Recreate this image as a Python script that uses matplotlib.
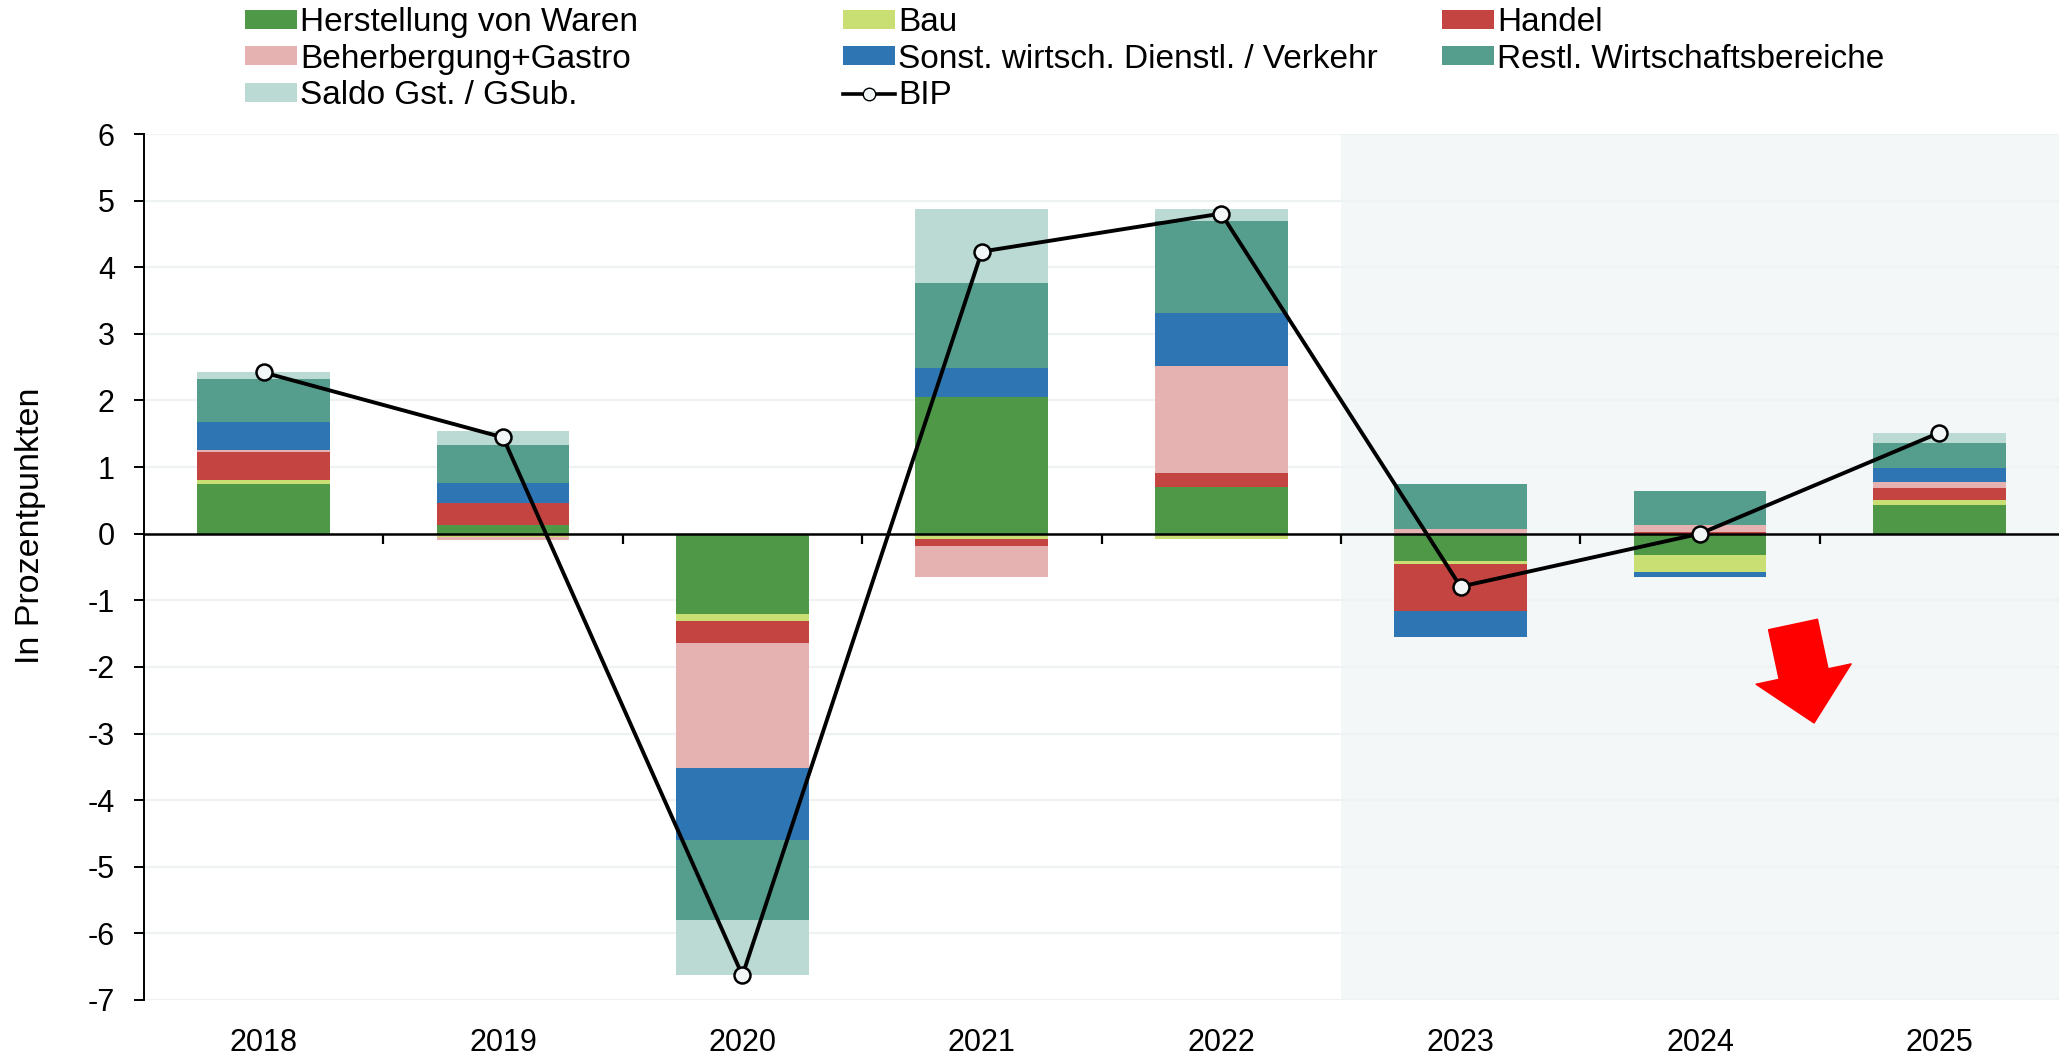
import numpy as np
import matplotlib
matplotlib.use("Agg")
import matplotlib.pyplot as plt
from matplotlib.patches import Patch
from matplotlib.lines import Line2D

years = ["2018", "2019", "2020", "2021", "2022", "2023", "2024", "2025"]

series_names = [
    "Herstellung von Waren",
    "Bau",
    "Handel",
    "Beherbergung+Gastro",
    "Sonst. wirtsch. Dienstl. / Verkehr",
    "Restl. Wirtschaftsbereiche",
    "Saldo Gst. / GSub.",
]
herstellung = [0.74, 0.135, -1.20, 2.05, 0.695, -0.41, -0.32, 0.43]
bau = [0.07, -0.05, -0.11, -0.075, -0.075, -0.05, -0.25, 0.07]
handel = [0.41, 0.32, -0.335, -0.115, 0.22, -0.70, 0.03, 0.18]
beherbergung = [0.04, -0.04, -1.865, -0.465, 1.605, 0.07, 0.10, 0.10]
sonst = [0.41, 0.30, -1.09, 0.43, 0.80, -0.385, -0.08, 0.20]
restl = [0.65, 0.57, -1.20, 1.28, 1.375, 0.67, 0.51, 0.385]
saldo = [0.10, 0.21, -0.825, 1.12, 0.18, 0.0, 0.0, 0.145]
bip = [2.42, 1.445, -6.63, 4.235, 4.805, -0.795, 0.0, 1.515]

colors = ["#4E9848", "#C9DF73", "#C44442", "#E5B1B1", "#2E75B3", "#559E8E", "#BADAD3"]

plt.rcParams.update({
    "font.family": ["Liberation Sans", "DejaVu Sans"],
    "axes.unicode_minus": False,
})

fig = plt.figure(figsize=(20.59, 10.56), dpi=100)
ax = fig.add_axes([144 / 2059, 56 / 1056, 1 - 144 / 2059, (1000 - 134) / 1056])

x = np.arange(len(years))
width = 0.555

# forecast shading
ax.axvspan(4.5, len(years) - 0.5, color="#F3F7F8", zorder=0, lw=0)

for yv in range(-7, 7):
    ax.axhline(yv, color="#EDF3F2", lw=1.6, zorder=1)

data = [herstellung, bau, handel, beherbergung, sonst, restl, saldo]
pos_base = np.zeros(len(years))
neg_base = np.zeros(len(years))
for vals, col in zip(data, colors):
    v = np.array(vals)
    pos = np.where(v > 0, v, 0)
    neg = np.where(v < 0, v, 0)
    ax.bar(x, pos, width, bottom=pos_base, color=col, lw=0, zorder=2)
    ax.bar(x, neg, width, bottom=neg_base, color=col, lw=0, zorder=2)
    pos_base += pos
    neg_base += neg

ax.axhline(0, color="black", lw=1.8, zorder=3)
# small ticks on zero line between categories
ax.vlines(x[:-1] + 0.5, 0, -0.15, color="black", lw=1.6, zorder=3)

ax.plot(x, bip, color="black", lw=2.8, marker="o", markersize=11.5,
        markerfacecolor="#F2F6F7", markeredgecolor="black", markeredgewidth=1.8,
        zorder=5)

# red arrow
ax.annotate("", xy=(0.8721, 0.3199), xytext=(0.8611, 0.4336),
            xycoords="axes fraction", textcoords="axes fraction",
            arrowprops=dict(arrowstyle="simple,head_length=3.6,head_width=7.0,tail_width=3.6",
                            color="#FF0000", shrinkA=0, shrinkB=0, mutation_scale=10),
            zorder=6)

ax.set_xlim(-0.5, len(years) - 0.5)
ax.set_ylim(-7, 6)
ax.set_yticks(range(-7, 7))
ax.set_yticklabels([str(v) for v in range(-7, 7)])
ax.set_xticks(x)
ax.set_xticklabels(years)
ax.tick_params(axis="x", length=0, pad=20, labelsize=22)
ax.tick_params(axis="y", length=7, width=1.4, pad=14, labelsize=22, direction="out")

for s in ["top", "right", "bottom"]:
    ax.spines[s].set_visible(False)
ax.spines["left"].set_linewidth(1.4)

ax.set_ylabel("In Prozentpunkten", fontsize=24.5)
ax.yaxis.set_label_coords(-0.051, 0.548)

# legend in three columns, placed like the original
handles = [Patch(facecolor=c, edgecolor="none") for c in colors]
bip_handle = Line2D([], [], color="black", lw=2.6, marker="o", markersize=9,
                    markerfacecolor="#F2F6F7", markeredgecolor="black")
columns = [
    ([handles[0], handles[3], handles[6]], [series_names[0], series_names[3], series_names[6]], 245),
    ([handles[1], handles[4], bip_handle], [series_names[1], series_names[4], "BIP"], 843),
    ([handles[2], handles[5]], [series_names[2], series_names[5]], 1442),
]
for h, lab, xpix in columns:
    fig.legend(h, lab, loc="upper left", bbox_to_anchor=(xpix / 2059, 1 - 7 / 1056),
               frameon=False, fontsize=24, handlelength=1.55, handleheight=0.5,
               handletextpad=0.1, labelspacing=0.17, borderpad=0, borderaxespad=0)

fig.savefig("out.png", dpi=100)
